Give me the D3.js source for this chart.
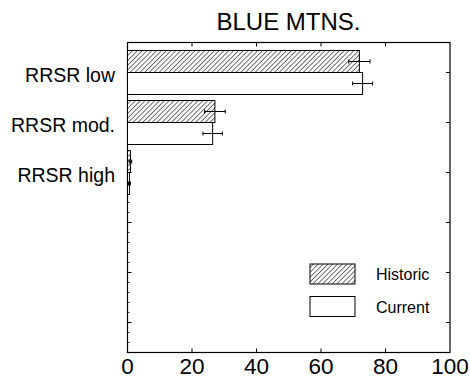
<!DOCTYPE html>
<html><head><meta charset="utf-8">
<script src="https://cdn.jsdelivr.net/npm/d3@7"></script>
<style>body{margin:0;background:#fff}svg{display:block}text{font-family:"Liberation Sans",Arial,sans-serif;fill:#000}</style>
</head><body><div id="chart"></div>
<script>
const title = "BLUE MTNS.";
const categories = ["RRSR low", "RRSR mod.", "RRSR high"];
const historic = [71.9, 27.1, 0.9];
const historicErr = [3.3, 3.2, 0.4];
const current = [72.9, 26.4, 0.6];
const currentErr = [3.1, 3.0, 0.3];
const xTicks = [0, 20, 40, 60, 80, 100];
const legendLabels = ["Historic", "Current"];

const W = 470, H = 381;
const m = {left:127.5, right:20, top:42.5, bottom:28.5};
const svg = d3.select("#chart").append("svg").attr("width", W).attr("height", H);
const defs = svg.append("defs");
const pat = defs.append("pattern").attr("id","hatch").attr("patternUnits","userSpaceOnUse")
  .attr("width",3.4).attr("height",3.4).attr("patternTransform","rotate(45)");
pat.append("rect").attr("width",3.4).attr("height",3.4).attr("fill","#fff");
pat.append("line").attr("x1",0).attr("y1",0).attr("x2",0).attr("y2",3.4).attr("stroke","#000").attr("stroke-width",1.1);

const x = d3.scaleLinear().domain([0,100]).range([m.left, W-m.right]);
const y = d3.scaleLinear().domain([-0.6, 5.6]).range([m.top, H-m.bottom]);
const barH = 22;

const g = svg.append("g");
g.append("rect").attr("x",x(0)).attr("y",y(-0.6)).attr("width",x(100)-x(0)).attr("height",y(5.6)-y(-0.6))
  .attr("fill","none").attr("stroke","#000").attr("stroke-width",1.2);

xTicks.slice(1,-1).forEach(t=>{
  g.append("line").attr("x1",x(t)).attr("x2",x(t)).attr("y1",y(-0.6)).attr("y2",y(-0.6)+4).attr("stroke","#000");
  g.append("line").attr("x1",x(t)).attr("x2",x(t)).attr("y1",y(5.6)).attr("y2",y(5.6)-4).attr("stroke","#000");
});
const majors = d3.range(0,6);
majors.forEach(i=>{
  g.append("line").attr("x1",x(0)).attr("x2",x(0)+4).attr("y1",y(i)).attr("y2",y(i)).attr("stroke","#000");
  g.append("line").attr("x1",x(100)).attr("x2",x(100)-4).attr("y1",y(i)).attr("y2",y(i)).attr("stroke","#000");
});
const minors = d3.range(-0.4, 5.6, 0.2).filter(v=>Math.abs(v-Math.round(v))>0.05);
minors.forEach(v=>{
  g.append("line").attr("x1",x(0)).attr("x2",x(0)+2).attr("y1",y(v)).attr("y2",y(v)).attr("stroke","#000").attr("stroke-width",0.8);
});

g.selectAll(".xl").data(xTicks).enter().append("text")
  .attr("x",d=>x(d)).attr("y",374).attr("text-anchor","middle").attr("font-size",22.5).text(d=>d);

g.selectAll(".yl").data(categories).enter().append("text")
  .attr("x",115).attr("y",(d,i)=>y(i)+9).attr("text-anchor","end").attr("font-size",19.5).text(d=>d);

const bars = g.append("g");
categories.forEach((c,i)=>{
  bars.append("rect").attr("x",x(0)).attr("y",y(i)-barH).attr("width",x(historic[i])-x(0)).attr("height",barH)
    .attr("fill","url(#hatch)").attr("stroke","#000").attr("stroke-width",1);
  bars.append("rect").attr("x",x(0)).attr("y",y(i)).attr("width",x(current[i])-x(0)).attr("height",barH)
    .attr("fill","#fff").attr("stroke","#000").attr("stroke-width",1);
  [[historic[i],historicErr[i],y(i)-barH/2],[current[i],currentErr[i],y(i)+barH/2]].forEach(([v,e,cy])=>{
    bars.append("line").attr("x1",x(v-e)).attr("x2",x(v+e)).attr("y1",cy).attr("y2",cy).attr("stroke","#000");
    bars.append("line").attr("x1",x(v-e)).attr("x2",x(v-e)).attr("y1",cy-2).attr("y2",cy+2).attr("stroke","#000");
    bars.append("line").attr("x1",x(v+e)).attr("x2",x(v+e)).attr("y1",cy-2).attr("y2",cy+2).attr("stroke","#000");
  });
});

svg.append("text").attr("x",288.5).attr("y",30).attr("text-anchor","middle").attr("font-size",24).text(title);

const leg = svg.append("g");
legendLabels.forEach((l,i)=>{
  const ly = 264 + i*32.5;
  leg.append("rect").attr("x",310).attr("y",ly).attr("width",45).attr("height",20)
    .attr("fill", i===0 ? "url(#hatch)" : "#fff").attr("stroke","#000").attr("stroke-width",1);
  leg.append("text").attr("x",376).attr("y",ly+16).attr("font-size",16).text(l);
});
</script></body></html>
